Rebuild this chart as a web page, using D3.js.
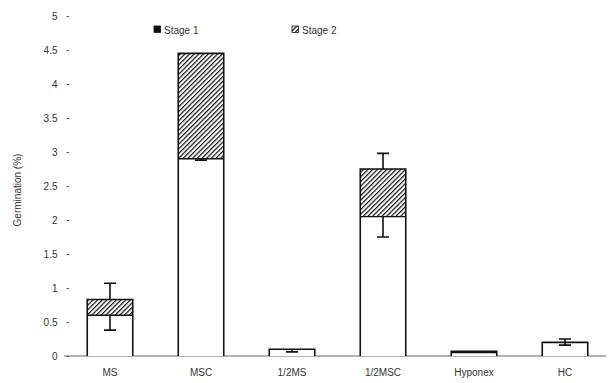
<!DOCTYPE html>
<html>
<head>
<meta charset="utf-8">
<script src="https://cdn.jsdelivr.net/npm/d3@7"></script>
<style>
  body { margin: 0; background: #fff; }
  svg { display: block; font-family: "Liberation Sans", Arial, sans-serif; }
  .axis text { fill: #333; font-size: 10px; }
  .axis line { stroke: #555; }
  .axis .domain { display: none; }
</style>
</head>
<body>
<div id="chart"></div>
<script>
// values
var categories = ['MS', 'MSC', '1/2MS', '1/2MSC', 'Hyponex', 'HC'];
var stage1 = [0.60, 2.90, 0.10, 2.05, 0.05, 0.20];
var stage2 = [0.23, 1.55, 0, 0.70, 0.02, 0];
var errUp = [0.24, 0, 0, 0.23, 0, 0.05];     // above the total
var errDown = [0.22, 0.02, 0.04, 0.30, 0, 0.04]; // below stage 1 top
var yTicks = [0, 0.5, 1, 1.5, 2, 2.5, 3, 3.5, 4, 4.5, 5];
var seriesNames = ['Stage 1', 'Stage 2'];

var width = 611, height = 383;
var svg = d3.select('#chart').append('svg')
    .attr('width', width)
    .attr('height', height);

var defs = svg.append('defs');
var pat = defs.append('pattern')
    .attr('id', 'hatch')
    .attr('patternUnits', 'userSpaceOnUse')
    .attr('width', 3.3)
    .attr('height', 3.3)
    .attr('patternTransform', 'rotate(45)');
pat.append('rect').attr('width', 3.3).attr('height', 3.3).attr('fill', '#fff');
pat.append('line')
    .attr('x1', 0).attr('y1', 0).attr('x2', 0).attr('y2', 3.3)
    .attr('stroke', '#111').attr('stroke-width', 2.4);

var x = d3.scaleBand()
    .domain(categories)
    .range([64.5, 610.5])
    .paddingInner(0.5)
    .paddingOuter(0.25);
var y = d3.scaleLinear().domain([0, 5]).range([356, 16]);

// y axis (ticks + labels only)
svg.append('g')
    .attr('class', 'axis')
    .attr('transform', 'translate(69,0)')
    .call(d3.axisLeft(y).tickValues(yTicks).tickSize(2.5).tickPadding(9)
        .tickFormat(function (d) { return String(d); }));

// baseline
svg.append('line')
    .attr('x1', 64).attr('x2', 606)
    .attr('y1', y(0)).attr('y2', y(0))
    .attr('stroke', '#666').attr('stroke-width', 1);

var data = categories.map(function (c, i) {
    return { cat: c, s1: stage1[i], s2: stage2[i], up: errUp[i], down: errDown[i] };
});

var bars = svg.append('g').selectAll('g').data(data).join('g');

// stage 1 (white)
bars.append('rect')
    .attr('x', function (d) { return x(d.cat); })
    .attr('width', x.bandwidth())
    .attr('y', function (d) { return y(d.s1); })
    .attr('height', function (d) { return y(0) - y(d.s1); })
    .attr('fill', '#fff');

// stage 2 (hatched)
bars.filter(function (d) { return d.s2 > 0; }).append('rect')
    .attr('x', function (d) { return x(d.cat); })
    .attr('width', x.bandwidth())
    .attr('y', function (d) { return y(d.s1 + d.s2); })
    .attr('height', function (d) { return y(d.s1) - y(d.s1 + d.s2); })
    .attr('fill', 'url(#hatch)');

// outlines: left, top, right of stacked bar, plus divider
bars.append('path')
    .attr('d', function (d) {
        var x0 = x(d.cat), x1 = x0 + x.bandwidth();
        var yt = y(d.s1 + d.s2);
        return 'M' + x0 + ',' + y(0) + 'V' + yt + 'H' + x1 + 'V' + y(0);
    })
    .attr('fill', 'none').attr('stroke', '#111').attr('stroke-width', 1.6);
bars.filter(function (d) { return d.s2 > 0; }).append('line')
    .attr('x1', function (d) { return x(d.cat); })
    .attr('x2', function (d) { return x(d.cat) + x.bandwidth(); })
    .attr('y1', function (d) { return y(d.s1); })
    .attr('y2', function (d) { return y(d.s1); })
    .attr('stroke', '#111').attr('stroke-width', 1.4);

// error bars
var cap = 6;
bars.filter(function (d) { return d.up > 0; }).append('path')
    .attr('d', function (d) {
        var cx = x(d.cat) + x.bandwidth() / 2;
        var t = y(d.s1 + d.s2), e = y(d.s1 + d.s2 + d.up);
        return 'M' + cx + ',' + t + 'V' + e + 'M' + (cx - cap) + ',' + e + 'H' + (cx + cap);
    })
    .attr('fill', 'none').attr('stroke', '#111').attr('stroke-width', 1.6);
bars.filter(function (d) { return d.down > 0; }).append('path')
    .attr('d', function (d) {
        var cx = x(d.cat) + x.bandwidth() / 2;
        var t = y(d.s1), e = y(d.s1 - d.down);
        return 'M' + cx + ',' + t + 'V' + e + 'M' + (cx - cap) + ',' + e + 'H' + (cx + cap);
    })
    .attr('fill', 'none').attr('stroke', '#111').attr('stroke-width', 1.6);

// x labels
svg.append('g').selectAll('text').data(categories).join('text')
    .attr('x', function (d) { return x(d) + x.bandwidth() / 2; })
    .attr('y', 376)
    .attr('text-anchor', 'middle')
    .attr('font-size', 10)
    .attr('fill', '#333')
    .text(function (d) { return d; });

// y label
svg.append('text')
    .attr('transform', 'translate(21,190) rotate(-90)')
    .attr('text-anchor', 'middle')
    .attr('font-size', 10)
    .attr('fill', '#333')
    .text('Germination (%)');

// legend
var legend = svg.append('g');
var legendX = [154, 292];
legend.selectAll('rect').data(seriesNames).join('rect')
    .attr('x', function (d, i) { return legendX[i]; })
    .attr('y', 26)
    .attr('width', 6.5).attr('height', 6.5)
    .attr('fill', function (d, i) { return i === 0 ? '#111' : 'url(#hatch)'; })
    .attr('stroke', '#111').attr('stroke-width', 0.8);
legend.selectAll('text').data(seriesNames).join('text')
    .attr('x', function (d, i) { return legendX[i] + 10; })
    .attr('y', 33.5)
    .attr('font-size', 10)
    .attr('fill', '#333')
    .text(function (d) { return d; });
</script>
</body>
</html>
